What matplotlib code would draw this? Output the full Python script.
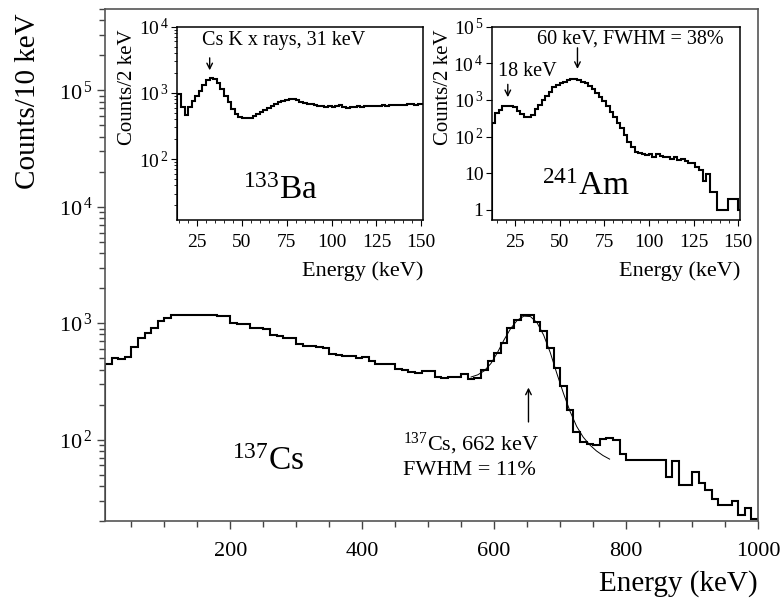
import numpy as np
import matplotlib
matplotlib.use('Agg')
import matplotlib.pyplot as plt
from matplotlib.ticker import LogLocator, MultipleLocator, NullFormatter

plt.rcParams['font.family'] = ['Liberation Serif', 'DejaVu Serif']
plt.rcParams['mathtext.fontset'] = 'custom'
plt.rcParams['mathtext.rm'] = 'Liberation Serif'
plt.rcParams['mathtext.it'] = 'Liberation Serif:italic'
plt.rcParams['mathtext.bf'] = 'Liberation Serif:bold'

# 137Cs spectrum, 10 keV bins starting at 10 keV
cs_bin = 10
cs_start = 10
cs_counts = [
    450, 505, 490, 510, 620, 750, 830, 910, 1040, 1100,
    1165, 1170, 1180, 1175, 1180, 1170, 1175, 1160, 1150, 1010,
    990, 985, 910, 905, 900, 785, 780, 750, 745, 660,
    640, 635, 620, 618, 540, 530, 525, 520, 505, 508,
    475, 450, 445, 445, 405, 400, 380, 375, 390, 385,
    345, 340, 342, 345, 365, 330, 335, 400, 475, 560,
    680, 910, 1075, 1165, 1170, 1020, 850, 617, 415, 290,
    180, 117, 96, 92, 90, 102, 103, 100, 76, 67,
    67, 67, 67, 67, 67, 48, 65, 41, 41, 53,
    42, 37, 31, 27.5, 27.5, 30, 22.6, 25.8, 21,
]
# fitted photopeak curve
fit_energy = [565, 575, 585, 595, 605, 615, 625, 635, 645, 655, 665,
              675, 685, 695, 705, 715, 725, 735, 745, 755, 765, 775]
fit_counts = [345, 360, 390, 450, 560, 720, 900, 1060, 1150, 1140, 1010,
              790, 560, 370, 250, 175, 130, 105, 90, 80, 73, 68]

# 133Ba spectrum, 2 keV bins starting at 14 keV
ba_bin = 2
ba_start = 14
ba_counts = [
    950, 620, 460, 620, 750, 900, 1080, 1300, 1550, 1650,
    1600, 1400, 1150, 900, 720, 580, 480, 430, 410, 415,
    420, 450, 480, 510, 550, 590, 630, 680, 720, 760,
    790, 810, 800, 770, 740, 710, 690, 670, 650, 640,
    630, 620, 625, 615, 630, 660, 610, 600, 610, 615,
    625, 620, 630, 635, 630, 640, 635, 645, 640, 650,
    660, 650, 665, 660, 670, 680, 665, 675, 670,
]

# 241Am spectrum, 2 keV bins starting at 12 keV
am_bin = 2
am_start = 12
am_counts = [
    240, 430, 530, 680, 690, 680, 630, 510, 410, 350,
    350, 380, 550, 730, 990, 1280, 1680, 2200, 2540, 2860,
    3160, 3490, 3640, 3640, 3490, 3160, 2860, 2420, 1970, 1580,
    1220, 950, 680, 480, 350, 240, 170, 110, 73, 53,
    39, 35, 34, 31, 33, 28, 33, 29, 27, 28,
    25, 28, 23, 24, 22, 19.5, 19, 15, 12, 6,
    9.6, 3, 3, 1, 1, 1, 2, 2, 2, 1,
]

main_xticks = [200, 400, 600, 800, 1000]
inset_xticks = [25, 50, 75, 100, 125, 150]


def edges(start, width, n):
    return start + width * np.arange(n + 1)


def pow_label(n):
    return r'$\mathrm{10}^{\,%d}$' % n


fig = plt.figure(figsize=(7.83, 6.01), dpi=100)

# ---------------- main panel ----------------
ax = fig.add_axes([0.1341, 0.1331, 0.834, 0.852])
ax.stairs(cs_counts, edges(cs_start, cs_bin, len(cs_counts)), color='k', lw=1.5)
ax.plot(fit_energy, fit_counts, color='k', lw=0.7)
ax.set_yscale('log')
ax.set_xlim(10, 1000)
ax.set_ylim(20, 5e5)
ax.set_xticks(main_xticks)
ax.set_xticklabels([str(v) for v in main_xticks])
ax.xaxis.set_minor_locator(MultipleLocator(50))
ax.set_yticks([1e2, 1e3, 1e4, 1e5])
ax.set_yticklabels([pow_label(n) for n in [2, 3, 4, 5]])
ax.yaxis.set_minor_locator(LogLocator(base=10, subs=np.arange(2, 10)))
ax.yaxis.set_minor_formatter(NullFormatter())
ax.tick_params(which='both', direction='out', top=False, right=False,
               color='#444', labelsize=16)
ax.tick_params(which='major', length=6, width=1)
ax.tick_params(which='minor', length=4, width=1)
ax.tick_params(axis='x', pad=9)
ax.tick_params(axis='y', pad=3)
for s in ax.spines.values():
    s.set_color('#555')
    s.set_linewidth(1.2)

ax.set_xlabel('Energy (keV)', fontsize=21, ha='right', va='center')
ax.xaxis.set_label_coords(1.0, -0.123)
ax.set_ylabel('Counts/10 keV', fontsize=21, va='center')
ax.yaxis.set_label_coords(-0.118, 0.819)

ax.text(0.25, 0.115, r'$^{137}$Cs', transform=ax.transAxes, fontsize=24,
        ha='center', va='center')
ax.text(0.456, 0.15, r'$^{137}$Cs, 662 keV', transform=ax.transAxes,
        fontsize=16, ha='left', va='center')
ax.text(0.456, 0.099, 'FWHM = 11%', transform=ax.transAxes,
        fontsize=16, ha='left', va='center')
ax.annotate('', xy=(652, 0.266), xytext=(652, 0.188),
            xycoords=('data', 'axes fraction'),
            textcoords=('data', 'axes fraction'),
            arrowprops=dict(arrowstyle='->', lw=1, color='k'))


def style_inset(a, ylim, yticks, ylabels, xlim):
    a.set_yscale('log')
    a.set_xlim(*xlim)
    a.set_ylim(*ylim)
    a.set_xticks(inset_xticks)
    a.set_xticklabels([str(v) for v in inset_xticks])
    a.xaxis.set_minor_locator(MultipleLocator(5))
    a.set_yticks(yticks)
    a.set_yticklabels(ylabels)
    a.yaxis.set_minor_locator(LogLocator(base=10, subs=np.arange(2, 10)))
    a.yaxis.set_minor_formatter(NullFormatter())
    a.tick_params(which='both', direction='out', top=False, right=False,
                  labelsize=14)
    a.tick_params(which='major', length=4)
    a.tick_params(which='minor', length=2.5)
    a.tick_params(axis='x', pad=6)
    a.tick_params(axis='y', pad=2)
    a.set_xlabel('Energy (keV)', fontsize=16, ha='right', va='center')
    a.xaxis.set_label_coords(1.0, -0.264)
    a.set_ylabel('Counts/2 keV', fontsize=15, va='center')
    a.yaxis.set_label_coords(-0.2, 0.685)
    for s in a.spines.values():
        s.set_linewidth(1.1)


# ---------------- 133Ba inset ----------------
ax_ba = fig.add_axes([0.2261, 0.634, 0.3142, 0.3216])
ax_ba.stairs(ba_counts, edges(ba_start, ba_bin, len(ba_counts)), color='k', lw=1.5)
style_inset(ax_ba, (12, 1e4), [1e2, 1e3, 1e4],
            [pow_label(n) for n in [2, 3, 4]], (13.8, 151))
ax_ba.text(0.1, 0.931, 'Cs K x rays, 31 keV', transform=ax_ba.transAxes,
           fontsize=14.5, ha='left', va='center')
ax_ba.annotate('', xy=(32, 0.76), xytext=(32, 0.853),
               xycoords=('data', 'axes fraction'),
               textcoords=('data', 'axes fraction'),
               arrowprops=dict(arrowstyle='->', lw=1, color='k'))
ax_ba.text(0.42, 0.15, r'$^{133}$Ba', transform=ax_ba.transAxes, fontsize=24,
           ha='center', va='center')

# ---------------- 241Am inset ----------------
ax_am = fig.add_axes([0.628, 0.634, 0.3171, 0.3216])
ax_am.stairs(am_counts, edges(am_start, am_bin, len(am_counts)), color='k', lw=1.5)
style_inset(ax_am, (0.53, 1e5), [1, 10, 1e2, 1e3, 1e4, 1e5],
            ['1', '10'] + [pow_label(n) for n in [2, 3, 4, 5]], (12, 151))
ax_am.yaxis.set_label_coords(-0.196, 0.685)
ax_am.text(0.181, 0.935, '60 keV, FWHM = 38%', transform=ax_am.transAxes,
           fontsize=14.5, ha='left', va='center')
ax_am.annotate('', xy=(60, 0.767), xytext=(60, 0.905),
               xycoords=('data', 'axes fraction'),
               textcoords=('data', 'axes fraction'),
               arrowprops=dict(arrowstyle='->', lw=1, color='k'))
ax_am.text(0.025, 0.767, '18 keV', transform=ax_am.transAxes,
           fontsize=14.5, ha='left', va='center')
ax_am.annotate('', xy=(21, 0.621), xytext=(21, 0.716),
               xycoords=('data', 'axes fraction'),
               textcoords=('data', 'axes fraction'),
               arrowprops=dict(arrowstyle='->', lw=1, color='k'))
ax_am.text(0.38, 0.17, r'$^{241}$Am', transform=ax_am.transAxes, fontsize=24,
           ha='center', va='center')

fig.savefig('out.png', dpi=100)
